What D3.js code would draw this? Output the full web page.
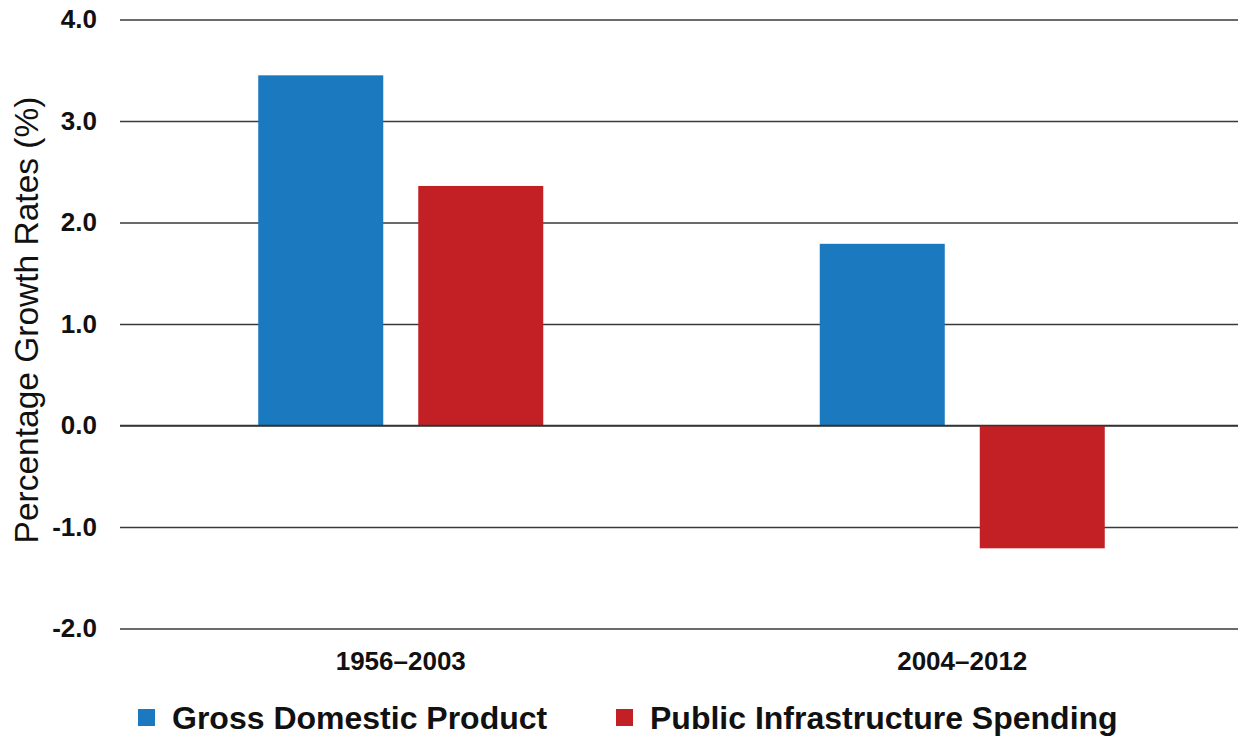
<!DOCTYPE html>
<html>
<head>
<meta charset="utf-8">
<script src="https://cdn.jsdelivr.net/npm/d3@7"></script>
<style>
  html, body { margin: 0; padding: 0; background: #fff; }
  svg { display: block; font-family: "Liberation Sans", Arial, sans-serif; }
</style>
</head>
<body>
<div id="chart"></div>
<script>
const categories = ["1956–2003", "2004–2012"];
const seriesNames = ["Gross Domestic Product", "Public Infrastructure Spending"];
const gdpValues = [3.45, 1.79];
const infraValues = [2.36, -1.21];
const yTicks = [-2, -1, 0, 1, 2, 3, 4];
const colors = ["#1a79bf", "#c32026"];

const width = 1238, height = 736;
const plot = { left: 120, right: 1243, top: 19.5, bottom: 628.5 };

const svg = d3.select("#chart").append("svg")
  .attr("width", width)
  .attr("height", height);

const rows = categories.map((c, i) => ({
  category: c,
  values: [gdpValues[i], infraValues[i]]
}));

const x0 = d3.scaleBand()
  .domain(categories)
  .range([plot.left, plot.right])
  .paddingInner(0.4924)
  .paddingOuter(0.2462);

const x1 = d3.scaleBand()
  .domain(d3.range(seriesNames.length))
  .range([0, x0.bandwidth()])
  .paddingInner(0.21875);

const y = d3.scaleLinear()
  .domain([-2, 4])
  .range([plot.bottom, plot.top]);

// Gridlines + tick labels (plain hyphen for negatives, like the original)
const yAxis = svg.append("g")
  .attr("transform", `translate(${plot.left},0)`)
  .call(d3.axisLeft(y)
    .tickValues(yTicks)
    .tickFormat(d => d.toFixed(1))
    .tickSize(-(width - plot.left))
    .tickPadding(23));

yAxis.select(".domain").remove();
yAxis.selectAll(".tick line")
  .attr("stroke", "#3a3a3a")
  .attr("stroke-width", 1.4);
yAxis.selectAll(".tick text")
  .attr("fill", "#111")
  .style("font-size", "26px")
  .style("font-weight", "bold");

// Bars
const groups = svg.append("g")
  .selectAll("g")
  .data(rows)
  .join("g")
  .attr("transform", d => `translate(${x0(d.category)},0)`);

groups.selectAll("rect")
  .data(d => d.values.map((v, i) => ({ v, i })))
  .join("rect")
  .attr("x", d => x1(d.i))
  .attr("width", x1.bandwidth())
  .attr("y", d => y(Math.max(0, d.v)))
  .attr("height", d => Math.abs(y(d.v) - y(0)))
  .attr("fill", d => colors[d.i]);

// Zero line over bars
svg.append("line")
  .attr("x1", plot.left)
  .attr("x2", width)
  .attr("y1", y(0))
  .attr("y2", y(0))
  .attr("stroke", "#333")
  .attr("stroke-width", 1.4);

// Category labels
svg.append("g")
  .selectAll("text")
  .data(categories)
  .join("text")
  .attr("x", d => x0(d) + x0.bandwidth() / 2)
  .attr("y", 670)
  .attr("text-anchor", "middle")
  .attr("fill", "#111")
  .style("font-size", "26px")
  .style("font-weight", "bold")
  .text(d => d);

// Y axis title
svg.append("text")
  .attr("transform", `translate(38,${(95 + 545) / 2}) rotate(-90)`)
  .attr("text-anchor", "middle")
  .attr("fill", "#111")
  .style("font-size", "33.5px")
  .text("Percentage Growth Rates (%)");

// Legend
const legendX = [138, 616];
const legend = svg.append("g")
  .selectAll("g")
  .data(seriesNames)
  .join("g")
  .attr("transform", (d, i) => `translate(${legendX[i]},709)`);

legend.append("rect")
  .attr("width", 17)
  .attr("height", 17)
  .attr("fill", (d, i) => colors[i]);

legend.append("text")
  .attr("x", 34)
  .attr("y", 20)
  .attr("fill", "#111")
  .style("font-size", "32px")
  .style("font-weight", "bold")
  .text(d => d);
</script>
</body>
</html>
